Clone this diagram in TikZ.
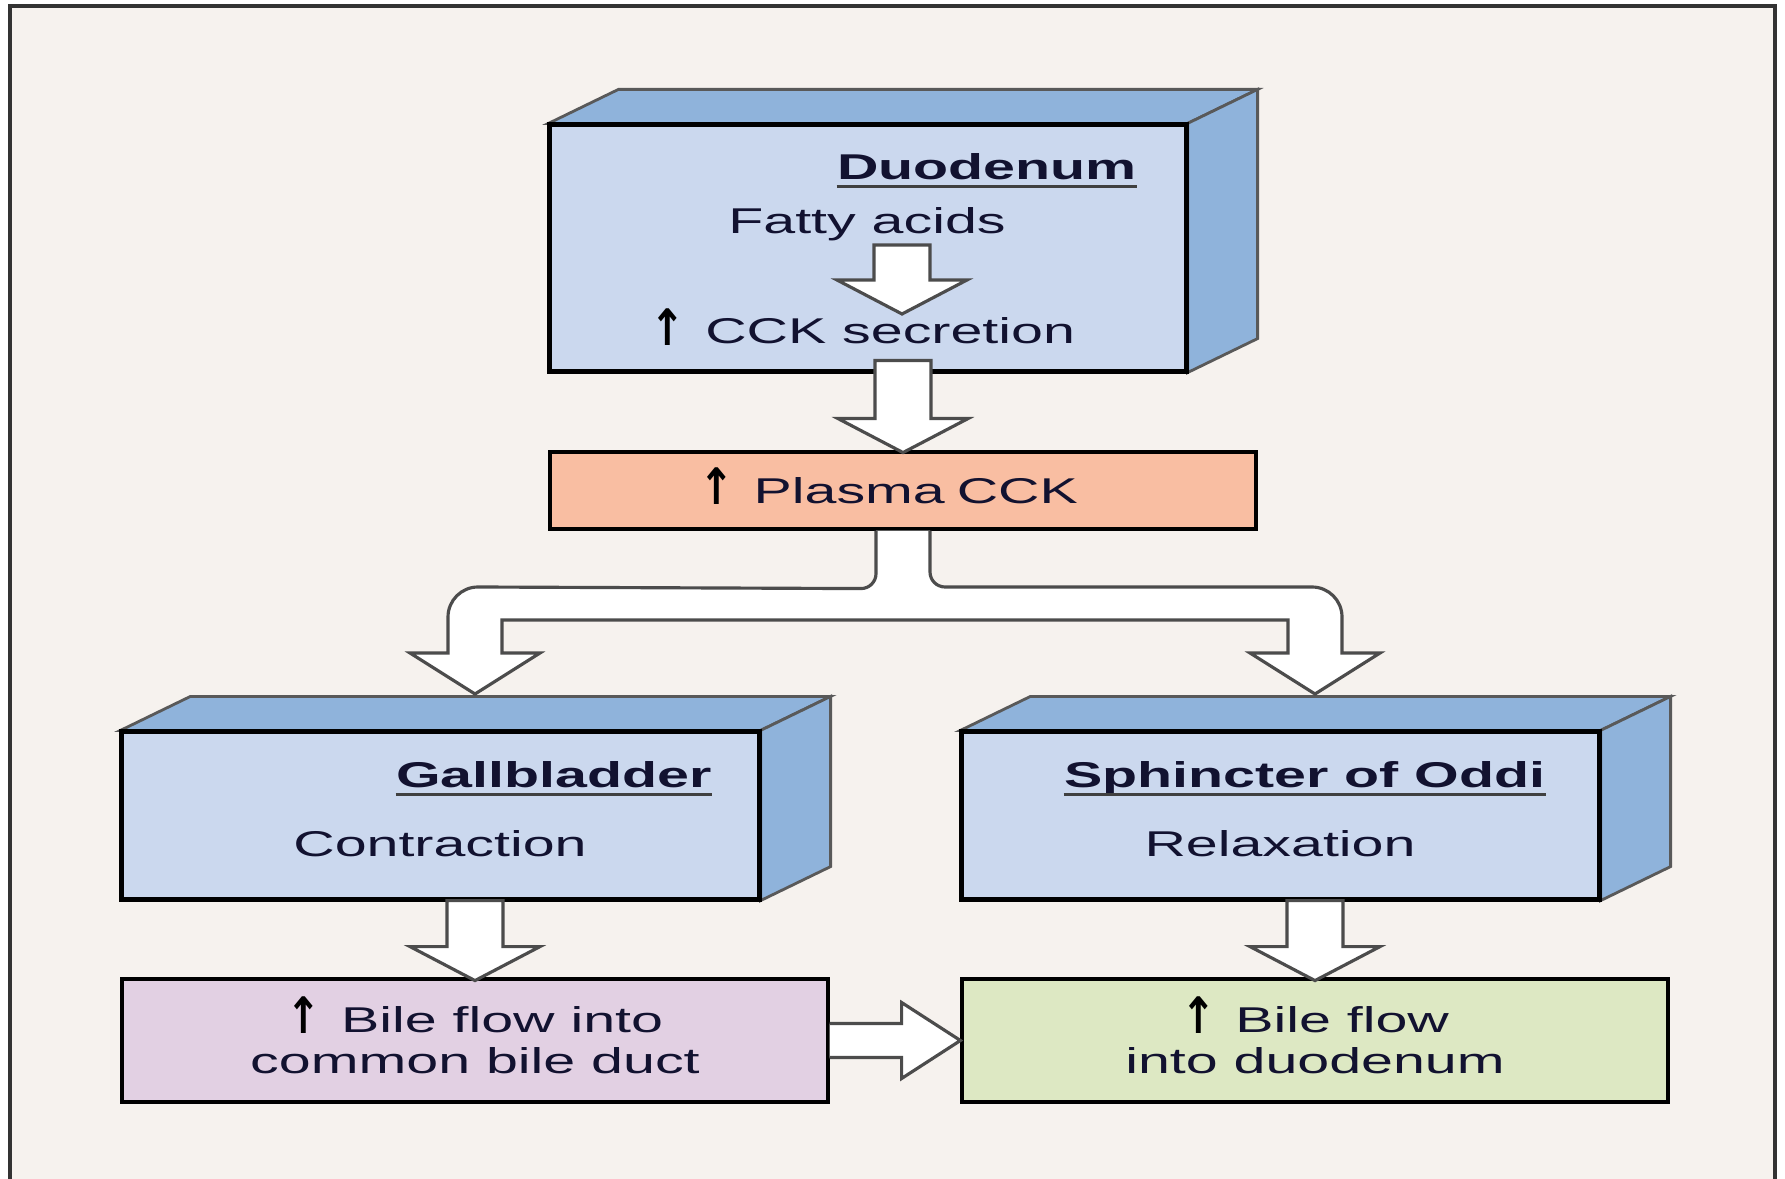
\documentclass[tikz,border=0pt]{standalone}
\usepackage{fontspec}
\setmainfont{Liberation Sans}[FakeStretch=1.6]
\newfontfamily\arrowfont{DejaVu Sans}
\usetikzlibrary{calc}

\definecolor{paper}{HTML}{F6F2EE}
\definecolor{facelight}{HTML}{CBD8EE}
\definecolor{facedark}{HTML}{8FB3DB}
\definecolor{plasmafill}{HTML}{F9BEA2}
\definecolor{ductfill}{HTML}{E2D0E3}
\definecolor{duofill}{HTML}{DDE8C3}
\definecolor{ink}{HTML}{121230}

\newcommand{\upmark}{\smash{\raisebox{-0.3pt}{\scalebox{1.15}[1.4]{\arrowfont\bfseries\color{black}↑}}}\hspace{0.55em}}
\newcommand{\bigdown}[2]{%
	\draw[blockarrow] (#1) ++(-0.28,0) -- ++(0,-#2) -- ++(-0.37,0) -- ++(0.65,-0.34)
		-- ++(0.65,0.34) -- ++(-0.37,0) -- ++(0,#2) -- cycle;}

\begin{document}
\begin{tikzpicture}[
	font=\fontsize{10.2}{11.7}\selectfont, text=ink,
	head/.style={font=\fontsize{10.2}{11.7}\selectfont\bfseries},
	blockarrow/.style={fill=white, draw=black!70, line width=0.9pt},
	face/.style={fill=facedark, draw=black!65, line width=0.8pt},
	uline/.style={draw=black!75, line width=0.9pt}]

	% paper and frame
	\useasboundingbox (0,0) rectangle (17.85,-11.79);
	\fill[paper] (0.10,-0.06) rectangle (17.75,-11.79);
	\draw[black!80, line width=1.1pt] (0.10,-11.79) -- (0.10,-0.06) -- (17.75,-0.06) -- (17.75,-11.79);

	\begin{scope}[every node/.style={draw=black, line width=0.9pt, inner sep=0pt, align=center}]
		\node[fill=facelight, minimum width=6.36cm, minimum height=2.46cm] (duo) at (8.68,-2.48) {};
		\node[fill=plasmafill, minimum width=7.06cm, minimum height=0.77cm, text width=7.06cm] (plasma) at (9.03,-4.905) {\upmark Plasma CCK\hspace*{0.8em}};
		\node[fill=facelight, minimum width=6.37cm, minimum height=1.67cm] (gall) at (4.405,-8.155) {};
		\node[fill=facelight, minimum width=6.37cm, minimum height=1.67cm] (oddi) at (12.805,-8.155) {};
		\node[fill=ductfill, minimum width=7.06cm, minimum height=1.23cm] (duct) at (4.75,-10.405) {\upmark Bile flow into\\common bile duct};
		\node[fill=duofill, minimum width=7.06cm, minimum height=1.23cm] (bileduo) at (13.15,-10.405) {\upmark Bile flow\\into duodenum};
	\end{scope}

	% top and side of the blocks
	\foreach \b in {duo,gall,oddi} {
		\draw[face] (\b.north west) -- ++(0.70,0.34) -- ([shift={(0.70,0.34)}]\b.north east) -- (\b.north east) -- cycle;
		\draw[face] (\b.north east) -- ++(0.70,0.34) -- ([shift={(0.70,0.34)}]\b.south east) -- (\b.south east) -- cycle;
		\draw[line width=0.9pt] (\b.south west) rectangle (\b.north east);
	}

	\begin{scope}[every node/.style={inner sep=0pt, anchor=base}]
		\node[head] (duohead) at (9.87,-1.795) {Duodenum};
		\node (fatty) at (8.67,-2.335) {Fatty acids};
		\node (cck) at (8.63,-3.44) {\upmark CCK secretion};
		\node[head] (gallhead) at (5.54,-7.875) {Gallbladder};
		\node (contr) at (4.40,-8.565) {Contraction};
		\node[head] (oddihead) at (13.05,-7.875) {Sphincter of Oddi};
		\node (relax) at (12.80,-8.565) {Relaxation};
	\end{scope}

	\foreach \h in {duohead,gallhead,oddihead}
		\draw[uline] ([yshift=-1.9pt]\h.base west) -- ([yshift=-1.9pt]\h.base east);

	% block arrows
	\coordinate (fa) at (9.02,-2.45);
	\bigdown{fa}{0.35}
	\bigdown{$(duo.south -| plasma.north)+(0,0.12)$}{0.58}
	\bigdown{gall.south -| duct.north}{0.46}
	\bigdown{oddi.south -| bileduo.north}{0.46}

	\draw[blockarrow] ([xshift=-2.7mm]plasma.south) -- ++(0,-0.43)
		arc[start angle=0, end angle=-90, radius=0.15] -- (4.78,-5.87)
		arc[start angle=90, end angle=180, radius=0.3] -- (4.48,-6.53)
		-- (4.10,-6.53) -- (4.75,-6.94) -- (5.40,-6.53) -- (5.02,-6.53) -- (5.02,-6.20)
		-- (12.88,-6.20) -- (12.88,-6.53) -- (12.50,-6.53) -- (13.15,-6.94) -- (13.80,-6.53)
		-- (13.42,-6.53) -- (13.42,-6.17)
		arc[start angle=0, end angle=90, radius=0.3] -- (9.45,-5.87)
		arc[start angle=270, end angle=180, radius=0.15] -- ([xshift=2.7mm]plasma.south);

	\draw[blockarrow] ([yshift=1.7mm]duct.east) -- ++(0.72,0) -- ++(0,0.21) -- (bileduo.west)
		-- ([shift={(0.72,-0.38)}]duct.east) -- ++(0,0.21) -- ([yshift=-1.7mm]duct.east);
\end{tikzpicture}
\end{document}
